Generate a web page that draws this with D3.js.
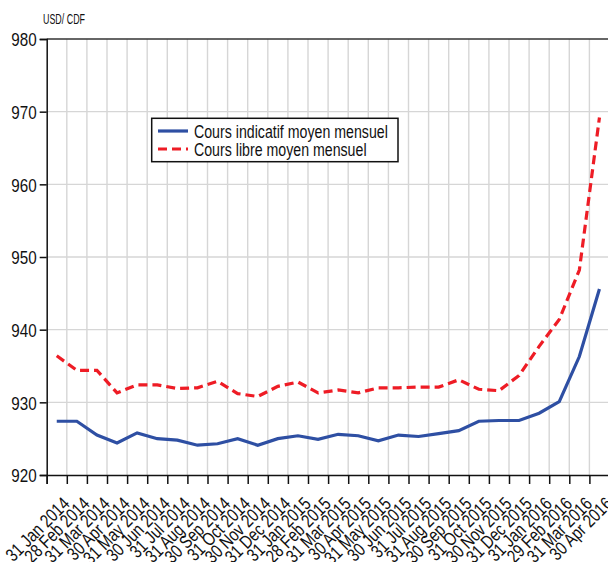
<!DOCTYPE html>
<html>
<head>
<meta charset="utf-8">
<script src="https://cdn.jsdelivr.net/npm/d3@7"></script>
<style>
  body { margin: 0; background: #fff; }
  text { font-family: "Liberation Sans", Arial, sans-serif; }
</style>
</head>
<body>
<script>
// chart size
var w = 608, h = 562;

// month labels (end of month)
var months = ["31 Jan 2014", "28 Feb 2014", "31 Mar 2014", "30 Apr 2014", "31 May 2014", "30 Jun 2014",
    "31 Jul 2014", "31 Aug 2014", "30 Sep 2014", "31 Oct 2014", "30 Nov 2014", "31 Dec 2014",
    "31 Jan 2015", "28 Feb 2015", "31 Mar 2015", "30 Apr 2015", "31 May 2015", "30 Jun 2015",
    "31 Jul 2015", "31 Aug 2015", "30 Sep 2015", "31 Oct 2015", "30 Nov 2015", "31 Dec 2015",
    "31 Jan 2016", "29 Feb 2016", "31 Mar 2016", "30 Apr 2016"];

// Cours indicatif moyen mensuel
var indicatif = [927.4, 927.4, 925.5, 924.4, 925.8, 925.0, 924.8, 924.1, 924.3, 925.0, 924.1, 925.0,
    925.4, 924.9, 925.6, 925.4, 924.7, 925.5, 925.3, 925.7, 926.1, 927.4, 927.5, 927.5,
    928.5, 930.1, 936.3, 945.6];

// Cours libre moyen mensuel
var libre = [936.4, 934.4, 934.4, 931.3, 932.4, 932.4, 931.9, 932.0, 932.9, 931.2, 930.8, 932.2,
    932.8, 931.3, 931.7, 931.3, 932.0, 932.0, 932.1, 932.1, 933.1, 931.8, 931.6, 933.7,
    937.7, 941.4, 948.2, 969.2];

var yTicks = [920, 930, 940, 950, 960, 970, 980];

var svg = d3.select("body")
    .append("svg")
    .attr("width", w)
    .attr("height", h);

// squeeze text to look like a narrow face
function narrow(sel, k) {
    sel.each(function(){
        var len = this.getComputedTextLength();
        d3.select(this)
            .attr("textLength", len * k)
            .attr("lengthAdjust", "spacingAndGlyphs");
    });
}

// scales
var x = d3.scaleBand()
    .domain(months)
    .range([46.7, 609.5]);

var y = d3.scaleLinear()
    .domain([920, 980])
    .range([475, 39]);

var bw = x.bandwidth();
function cx(d) { return x(d) + bw / 2; }

// gridlines
svg.append("g")
    .selectAll("line")
    .data(months.slice(1))
    .enter()
    .append("line")
    .attr("x1", function(d){ return x(d); })
    .attr("x2", function(d){ return x(d); })
    .attr("y1", y(980))
    .attr("y2", y(920))
    .style("stroke", "#d6d6d6")
    .style("stroke-width", 1.4);

svg.append("g")
    .selectAll("line")
    .data(yTicks.slice(1, -1))
    .enter()
    .append("line")
    .attr("x1", x.range()[0])
    .attr("x2", w)
    .attr("y1", function(d){ return y(d); })
    .attr("y2", function(d){ return y(d); })
    .style("stroke", "#d6d6d6")
    .style("stroke-width", 1.4);

// top line
svg.append("line")
    .attr("x1", x.range()[0])
    .attr("x2", w)
    .attr("y1", y(980))
    .attr("y2", y(980))
    .style("stroke", "#333")
    .style("stroke-width", 1.5);

// y axis
var yAxis = d3.axisLeft(y)
    .tickValues(yTicks)
    .tickSize(7)
    .tickPadding(3);

var ya = svg.append("g")
    .attr("class", "axis")
    .attr("transform", "translate(" + x.range()[0] + ",0)")
    .call(yAxis);
ya.selectAll("text")
    .style("font-family", "Liberation Sans, Arial, sans-serif")
    .style("font-size", "19px")
    .style("fill", "#111")
    .attr("dy", "0.36em")
    .call(narrow, 0.8);

// x axis: ticks on month boundaries
var xb = d3.scaleLinear().domain([0, months.length]).range(x.range());
var xAxis = d3.axisBottom(xb)
    .tickValues(d3.range(0, months.length))
    .tickSize(9)
    .tickFormat("");

svg.append("g")
    .attr("class", "axis")
    .attr("transform", "translate(0," + y(920) + ")")
    .call(xAxis);

svg.selectAll(".axis path, .axis line")
    .style("stroke", "#111")
    .style("stroke-width", 1.5);

// month labels
svg.append("g")
    .selectAll("text")
    .data(months)
    .enter()
    .append("text")
    .attr("text-anchor", "end")
    .attr("transform", function(d){
        return "translate(" + (cx(d) + 14) + ",505) rotate(-45)";
    })
    .style("font-size", "18.5px")
    .style("fill", "#111")
    .text(function(d){ return d; })
    .call(narrow, 0.8);

// unit label
svg.append("text")
    .attr("x", 43)
    .attr("y", 24)
    .style("font-size", "15px")
    .style("fill", "#111")
    .attr("textLength", 42)
    .attr("lengthAdjust", "spacingAndGlyphs")
    .text("USD/ CDF");

// lines
var line = d3.line()
    .x(function(d, i){ return cx(months[i]); })
    .y(function(d){ return y(d); });

svg.append("path")
    .datum(indicatif)
    .attr("d", line)
    .style("fill", "none")
    .style("stroke", "#2e4fa3")
    .style("stroke-width", 3.2);

svg.append("path")
    .datum(libre)
    .attr("d", line)
    .style("fill", "none")
    .style("stroke", "#ee1c25")
    .style("stroke-width", 3.2)
    .style("stroke-dasharray", "9,5");

// legend
var legend = svg.append("g");
legend.append("rect")
    .attr("x", 151.7)
    .attr("y", 118.3)
    .attr("width", 246.3)
    .attr("height", 43.4)
    .style("fill", "#fff")
    .style("stroke", "#111")
    .style("stroke-width", 1.5);

var series = [
    { name: "Cours indicatif moyen mensuel", color: "#2e4fa3", dash: null },
    { name: "Cours libre moyen mensuel", color: "#ee1c25", dash: "9,5" }
];

series.forEach(function(s, i){
    var yy = 131 + i * 18;
    legend.append("line")
        .attr("x1", 158)
        .attr("x2", 188)
        .attr("y1", yy)
        .attr("y2", yy)
        .style("stroke", s.color)
        .style("stroke-width", 3.2)
        .style("stroke-dasharray", s.dash);
    legend.append("text")
        .attr("x", 194)
        .attr("y", yy + 6.5)
        .style("font-size", "17.5px")
        .style("fill", "#111")
        .text(s.name)
        .call(narrow, 0.81);
});
</script>
</body>
</html>
